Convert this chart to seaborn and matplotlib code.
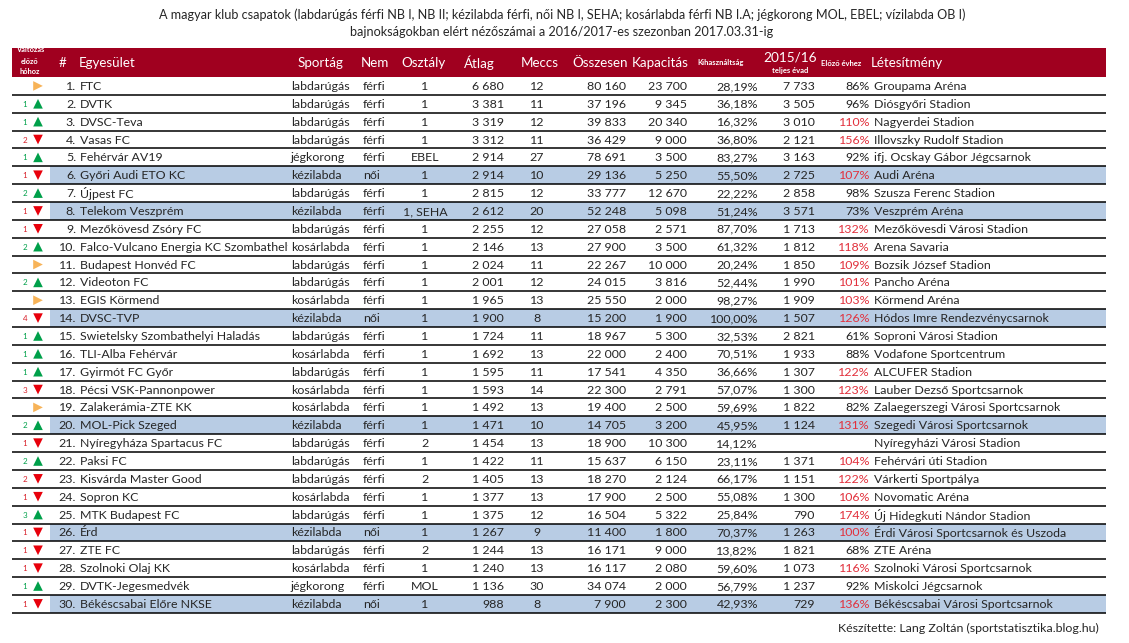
import numpy as np
import pandas as pd
import seaborn as sns
import matplotlib.pyplot as plt
from matplotlib.transforms import Bbox, TransformedBbox

# adatok (2016/2017, 2017.03.31-ig)
clubs = ["FTC", "DVTK", "DVSC-Teva", "Vasas FC", "Fehérvár AV19", "Győri Audi ETO KC",
         "Újpest FC", "Telekom Veszprém", "Mezőkövesd Zsóry FC",
         "Falco-Vulcano Energia KC Szombathely", "Budapest Honvéd FC", "Videoton FC",
         "EGIS Körmend", "DVSC-TVP", "Swietelsky Szombathelyi Haladás", "TLI-Alba Fehérvár",
         "Gyirmót FC Győr", "Pécsi VSK-Pannonpower", "Zalakerámia-ZTE KK", "MOL-Pick Szeged",
         "Nyíregyháza Spartacus FC", "Paksi FC", "Kisvárda Master Good", "Sopron KC",
         "MTK Budapest FC", "Érd", "ZTE FC", "Szolnoki Olaj KK", "DVTK-Jegesmedvék",
         "Békéscsabai Előre NKSE"]
change = [0, 1, 1, -2, 1, -1, 2, -1, -1, 2, 0, 2, 0, -4, 1, 1, 1, -3, 0, 2,
          -1, 2, -2, -1, 3, -1, -1, -1, 1, -1]
sport = ["labdarúgás", "labdarúgás", "labdarúgás", "labdarúgás", "jégkorong", "kézilabda",
         "labdarúgás", "kézilabda", "labdarúgás", "kosárlabda", "labdarúgás", "labdarúgás",
         "kosárlabda", "kézilabda", "labdarúgás", "kosárlabda", "labdarúgás", "kosárlabda",
         "kosárlabda", "kézilabda", "labdarúgás", "labdarúgás", "labdarúgás", "kosárlabda",
         "labdarúgás", "kézilabda", "labdarúgás", "kosárlabda", "jégkorong", "kézilabda"]
nem = ["férfi"] * 30
for i in [5, 13, 25, 29]:
    nem[i] = "női"
osztaly = ["1", "1", "1", "1", "EBEL", "1", "1", "1, SEHA", "1", "1", "1", "1", "1", "1", "1",
           "1", "1", "1", "1", "1", "2", "1", "2", "1", "1", "1", "2", "1", "MOL", "1"]
atlag = [6680, 3381, 3319, 3312, 2914, 2914, 2815, 2612, 2255, 2146, 2024, 2001, 1965, 1900,
         1724, 1692, 1595, 1593, 1492, 1471, 1454, 1422, 1405, 1377, 1375, 1267, 1244, 1240,
         1136, 988]
meccs = [12, 11, 12, 11, 27, 10, 12, 20, 12, 13, 11, 12, 13, 8, 11, 13, 11, 14, 13, 10,
         13, 11, 13, 13, 12, 9, 13, 13, 30, 8]
osszesen = [80160, 37196, 39833, 36429, 78691, 29136, 33777, 52248, 27058, 27900, 22267,
            24015, 25550, 15200, 18967, 22000, 17541, 22300, 19400, 14705, 18900, 15637,
            18270, 17900, 16504, 11400, 16171, 16117, 34074, 7900]
kapacitas = [23700, 9345, 20340, 9000, 3500, 5250, 12670, 5098, 2571, 3500, 10000, 3816,
             2000, 1900, 5300, 2400, 4350, 2791, 2500, 3200, 10300, 6150, 2124, 2500, 5322,
             1800, 9000, 2080, 2000, 2300]
kihasznaltsag = [28.19, 36.18, 16.32, 36.80, 83.27, 55.50, 22.22, 51.24, 87.70, 61.32, 20.24,
                 52.44, 98.27, 100.00, 32.53, 70.51, 36.66, 57.07, 59.69, 45.95, 14.12, 23.11,
                 66.17, 55.08, 25.84, 70.37, 13.82, 59.60, 56.79, 42.93]
elozo_szezon = [7733, 3505, 3010, 2121, 3163, 2725, 2858, 3571, 1713, 1812, 1850, 1990, 1909,
                1507, 2821, 1933, 1307, 1300, 1822, 1124, None, 1371, 1151, 1300, 790, 1263,
                1821, 1073, 1237, 729]
elozo_evhez = [86, 96, 110, 156, 92, 107, 98, 73, 132, 118, 109, 101, 103, 126, 61, 88, 122,
               123, 82, 131, None, 104, 122, 106, 174, 100, 68, 116, 92, 136]
letesitmeny = ["Groupama Aréna", "Diósgyőri Stadion", "Nagyerdei Stadion",
               "Illovszky Rudolf Stadion", "ifj. Ocskay Gábor Jégcsarnok", "Audi Aréna",
               "Szusza Ferenc Stadion", "Veszprém Aréna", "Mezőkövesdi Városi Stadion",
               "Arena Savaria", "Bozsik József Stadion", "Pancho Aréna", "Körmend Aréna",
               "Hódos Imre Rendezvénycsarnok", "Soproni Városi Stadion",
               "Vodafone Sportcentrum", "ALCUFER Stadion", "Lauber Dezső Sportcsarnok",
               "Zalaegerszegi Városi Sportcsarnok", "Szegedi Városi Sportcsarnok",
               "Nyíregyházi Városi Stadion", "Fehérvári úti Stadion", "Várkerti Sportpálya",
               "Novomatic Aréna", "Új Hidegkuti Nándor Stadion",
               "Érdi Városi Sportcsarnok és Uszoda", "ZTE Aréna",
               "Szolnoki Városi Sportcsarnok", "Miskolci Jégcsarnok",
               "Békéscsabai Városi Sportcsarnok"]

sns.set_theme(style="white")
plt.rcParams['font.family'] = ['Lato', 'DejaVu Sans']

W, H = 1129, 643
fig = plt.figure(figsize=(W / 100, H / 100), dpi=100)
ax = fig.add_axes([0, 0, 1, 1])
ax.set_xlim(0, W)
ax.set_ylim(H, 0)
ax.axis('off')

DARKRED = "#A0001F"
BLUE = "#B8CCE4"
RED = "#E2303C"
GREEN = "#00A04A"
ORANGE = "#F7B358"

left, right = 12, 1106
head_top, head_bot = 48, 77
row_h = 17.86
n = len(clubs)
row_y = head_bot + (np.arange(n) + 0.5) * row_h

def th(v):
    return f"{v:,}".replace(",", " ")

# cím
ax.text(562, 15, "A magyar klub csapatok (labdarúgás férfi NB I, NB II; kézilabda férfi, női NB I, SEHA; "
        "kosárlabda férfi NB I.A; jégkorong MOL, EBEL; vízilabda OB I)",
        ha="center", va="center", fontsize=9.1)
ax.text(562, 32, "bajnokságokban elért nézőszámai a 2016/2017-es szezonban 2017.03.31-ig",
        ha="center", va="center", fontsize=9.1)

# fejléc
ax.barh([(head_top + head_bot) / 2], [right - left], left=left, height=head_bot - head_top,
        color=DARKRED, edgecolor="none")
hy = 63
for t, y in zip(["Változás", "előző", "hóhoz"], [50, 61, 72]):
    ax.text(30, y, t, ha="center", va="center", fontsize=5.3, color="white", fontweight="bold")
hkw = dict(va="center", fontsize=9.6, color="white")
ax.text(63, hy, "#", ha="center", **hkw)
ax.text(79, hy, "Egyesület", ha="left", **hkw)
ax.text(343, hy, "Sportág", ha="right", **hkw)
ax.text(375, hy, "Nem", ha="center", **hkw)
ax.text(424, hy, "Osztály", ha="center", **hkw)
ax.text(479, hy, "Átlag", ha="center", **hkw)
ax.text(540, hy, "Meccs", ha="center", **hkw)
ax.text(600, hy, "Összesen", ha="center", **hkw)
ax.text(660, hy, "Kapacitás", ha="center", **hkw)
ax.text(721, hy, "Kihasználtság", ha="center", va="center", fontsize=5.5, color="white",
        fontweight="bold")
ax.text(790, 57, "2015/16", ha="center", va="center", fontsize=9.8, color="white")
ax.text(790, 71, "teljes évad", ha="center", va="center", fontsize=5.5, color="white",
        fontweight="bold")
ax.text(841, hy, "Előző évhez", ha="center", va="center", fontsize=5.5, color="white",
        fontweight="bold")
ax.text(871, hy, "Létesítmény", ha="left", **hkw)

# kézilabda sorok kiemelése
hl = [i for i, s in enumerate(sport) if s == "kézilabda"]
ax.barh(row_y[hl], [right - 50] * len(hl), left=50, height=row_h, color=BLUE, edgecolor="none")
ax.hlines(head_bot + (np.arange(n) + 1) * row_h, left, right, color="black", lw=1.1)

# változás nyilak
df = pd.DataFrame({"x": 38.0, "y": row_y, "chg": change})
df["irany"] = np.sign(df["chg"]).map({1: "fel", -1: "le", 0: "marad"})
sns.scatterplot(data=df, x="x", y="y", hue="irany", style="irany",
                markers={"fel": "^", "le": "v", "marad": ">"},
                palette={"fel": GREEN, "le": "#E8000B", "marad": ORANGE},
                s=48, edgecolor="none", legend=False, ax=ax)

# az egyesület oszlop levágása a sportág oszlopnál
name_box = TransformedBbox(Bbox([[0, 0], [288, H]]), ax.transData)

fs = 8.9
for i in range(n):
    y = row_y[i] + 0.5
    if change[i] != 0:
        ax.text(25, y, str(abs(change[i])), ha="center", va="center", fontsize=5.8,
                color=GREEN if change[i] > 0 else "#D8202A")
    ax.text(76, y, f"{i + 1}.", ha="right", va="center", fontsize=fs)
    t = ax.text(80, y, clubs[i], ha="left", va="center", fontsize=fs, clip_on=True)
    t.set_clip_box(name_box)
    ax.text(291, y, sport[i], ha="left", va="center", fontsize=fs)
    ax.text(363, y, nem[i], ha="left", va="center", fontsize=fs)
    ax.text(425, y, osztaly[i], ha="center", va="center", fontsize=fs)
    ax.text(504, y, th(atlag[i]), ha="right", va="center", fontsize=fs)
    ax.text(537, y, str(meccs[i]), ha="center", va="center", fontsize=fs)
    ax.text(626, y, th(osszesen[i]), ha="right", va="center", fontsize=fs)
    ax.text(687, y, th(kapacitas[i]), ha="right", va="center", fontsize=fs)
    ax.text(758, y, f"{kihasznaltsag[i]:.2f}".replace(".", ",") + "%", ha="right",
            va="center", fontsize=fs)
    if elozo_szezon[i] is not None:
        ax.text(815, y, th(elozo_szezon[i]), ha="right", va="center", fontsize=fs)
    if elozo_evhez[i] is not None:
        ax.text(870, y, f"{elozo_evhez[i]}%", ha="right", va="center", fontsize=fs,
                color=RED if elozo_evhez[i] >= 100 else "#222222")
    ax.text(874, y, letesitmeny[i], ha="left", va="center", fontsize=fs)

ax.text(1099, 628, "Készítette: Lang Zoltán (sportstatisztika.blog.hu)", ha="right",
        va="center", fontsize=8.9)

fig.savefig("out.png", dpi=100)
